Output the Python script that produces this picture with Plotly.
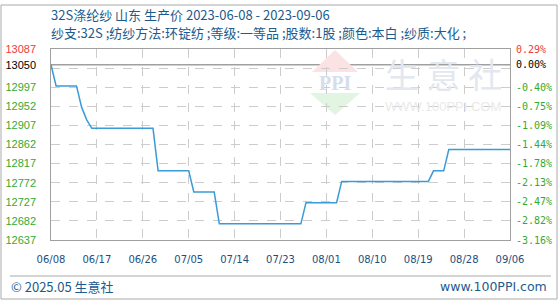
import plotly.graph_objects as go

# 32S polyester yarn, Shandong, ex-factory price (yuan/ton)
dates = ["2023-06-08", "2023-06-09", "2023-06-13", "2023-06-14", "2023-06-15",
         "2023-06-16", "2023-06-28", "2023-06-29", "2023-07-05", "2023-07-06",
         "2023-07-10", "2023-07-11", "2023-07-27", "2023-07-28", "2023-08-03",
         "2023-08-04", "2023-08-21", "2023-08-22", "2023-08-24", "2023-08-25",
         "2023-09-06"]
prices = [13050, 13000, 13000, 12950, 12920,
          12900, 12900, 12800, 12800, 12750,
          12750, 12675, 12675, 12725, 12725,
          12775, 12775, 12800, 12800, 12850,
          12850]

base_price = 13050
y_min, y_max = 12637, 13087
grid_vals = [12682, 12727, 12772, 12817, 12862, 12907, 12952, 12997, 13042]
label_vals = [13087, 13050, 12997, 12952, 12907, 12862, 12817, 12772, 12727, 12682, 12637]
label_text = ["13087", "13050", "12997", "12952", "12907", "12862", "12817",
              "12772", "12727", "12682", "12637"]
pct_text = ["0.29%", "0.00%", "-0.40%", "-0.75%", "-1.09%", "-1.44%", "-1.78%",
            "-2.13%", "-2.47%", "-2.82%", "-3.16%"]
label_colors = ["#f03a3a", "#000000"] + ["#33aa33"] * 9

x_ticks = ["2023-06-08", "2023-06-17", "2023-06-26", "2023-07-05", "2023-07-14",
           "2023-07-23", "2023-08-01", "2023-08-10", "2023-08-19", "2023-08-28",
           "2023-09-06"]

title_1 = "32S涤纶纱 山东 生产价 2023-06-08 - 2023-09-06"
title_2 = "纱支:32S ;纺纱方法:环锭纺 ;等级:一等品 ;股数:1股 ;颜色:本白 ;纱质:大化 ;"
footer_left = "© 2025.05 生意社"
footer_right = "www.100PPI.com"

W, H = 560, 300
ML, MR, MT, MB = 51, 50, 49, 60
PW, PH = W - ML - MR, H - MT - MB


def px(x):
    return (x - ML) / PW


def py(y):
    return (H - MB - y) / PH


BLUE_TXT = "#1c5b8e"
CJK = "Noto Sans CJK SC"

fig = go.Figure()
fig.add_trace(go.Scatter(x=dates, y=prices, mode="lines",
                         line=dict(color="#3b9ad8", width=1.5),
                         hoverinfo="skip", showlegend=False))
# invisible companions so the label axes render
for ax in ("y2", "y3"):
    fig.add_trace(go.Scatter(x=dates, y=prices, yaxis=ax, mode="lines",
                             line=dict(width=0), opacity=0,
                             hoverinfo="skip", showlegend=False))

colored = [f'<span style="color:{c}">{t}</span>' for c, t in zip(label_colors, label_text)]
colored_pct = [f'<span style="color:{c}">{t}</span>' for c, t in zip(label_colors, pct_text)]

fig.update_layout(
    width=W, height=H,
    margin=dict(l=ML, r=MR, t=MT, b=MB, pad=0, autoexpand=False),
    paper_bgcolor="white", plot_bgcolor="white",
    xaxis=dict(type="date", range=[dates[0], dates[-1]], tickvals=x_ticks,
               tickformat="%m/%d", showgrid=True, griddash="dash",
               gridcolor="#cccccc", gridwidth=1, showline=True, mirror=True,
               linecolor="#a0a0a0", linewidth=1, ticks="", zeroline=False,
               automargin=False,
               tickfont=dict(family="DejaVu Sans", size=10, color="#1c4f80"),
               ticklabelstandoff=10),
    yaxis=dict(range=[y_min, y_max], tickvals=grid_vals, showticklabels=False,
               showgrid=True, griddash="dash", gridcolor="#cccccc", gridwidth=1,
               showline=True, mirror=True, linecolor="#a0a0a0", linewidth=1,
               ticks="", zeroline=False, automargin=False),
    yaxis2=dict(range=[y_min, y_max], overlaying="y", side="left",
                tickvals=label_vals, ticktext=colored, showgrid=False,
                showline=False, ticks="", zeroline=False, automargin=False,
                tickfont=dict(family="Liberation Sans", size=11),
                ticklabelstandoff=14),
    yaxis3=dict(range=[y_min, y_max], overlaying="y", side="right",
                tickvals=label_vals, ticktext=colored_pct, showgrid=False,
                showline=False, ticks="", zeroline=False, automargin=False,
                tickfont=dict(family="DejaVu Sans Mono", size=10),
                ticklabelstandoff=5),
)

# reference line at the opening price
fig.add_shape(type="line", xref="paper", yref="y", x0=0, x1=1,
              y0=base_price, y1=base_price,
              line=dict(color="#a0a0a0", width=1.5), layer="below")

# watermark logo
fig.add_shape(type="path", xref="paper", yref="paper", layer="below",
              path=f"M {px(312)} {py(72)} L {px(358)} {py(72)} L {px(335)} {py(50)} Z",
              fillcolor="#fbe3e3", line=dict(width=0))
fig.add_shape(type="path", xref="paper", yref="paper", layer="below",
              path=f"M {px(310)} {py(93)} L {px(360)} {py(93)} L {px(335)} {py(115)} Z",
              fillcolor="#e2f4e2", line=dict(width=0))
annotations = [
    dict(text="<b>PPI</b>", x=px(335), y=py(83), font=dict(family="Liberation Serif", size=20, color="#d6ddeb")),
    dict(text="生 意 社", x=px(443), y=py(73), font=dict(family=CJK, size=34, color="#e3e7f0")),
    dict(text="WWW.100PPI.COM", x=px(443), y=py(106), font=dict(family="Liberation Sans", size=13, color="#eaeaea")),
]
for a in annotations:
    fig.add_annotation(xref="paper", yref="paper", showarrow=False,
                       xanchor="center", yanchor="middle", **a)

# headings and footer
fig.add_annotation(text=title_1, xref="paper", yref="paper", x=px(49), y=py(15),
                   xanchor="left", yanchor="middle", showarrow=False,
                   font=dict(family=CJK, size=13, color=BLUE_TXT))
fig.add_annotation(text=title_2, xref="paper", yref="paper", x=px(49), y=py(33),
                   xanchor="left", yanchor="middle", showarrow=False,
                   font=dict(family=CJK, size=13, color=BLUE_TXT))
fig.add_annotation(text=footer_left, xref="paper", yref="paper", x=px(9), y=py(286),
                   xanchor="left", yanchor="middle", showarrow=False,
                   font=dict(family=CJK, size=13, color=BLUE_TXT))
fig.add_annotation(text=footer_right, xref="paper", yref="paper", x=px(549), y=py(286),
                   xanchor="right", yanchor="middle", showarrow=False,
                   font=dict(family="DejaVu Sans", size=12.5, color=BLUE_TXT))

fig.add_shape(type="line", xref="paper", yref="paper", x0=px(10), x1=px(551),
              y0=py(276), y1=py(276), line=dict(color="#aaaaaa", width=1))
fig.add_shape(type="rect", xref="paper", yref="paper", x0=px(1), x1=px(557),
              y0=py(5), y1=py(299), line=dict(color="#aaaaaa", width=1))

fig.write_html("out.html")
